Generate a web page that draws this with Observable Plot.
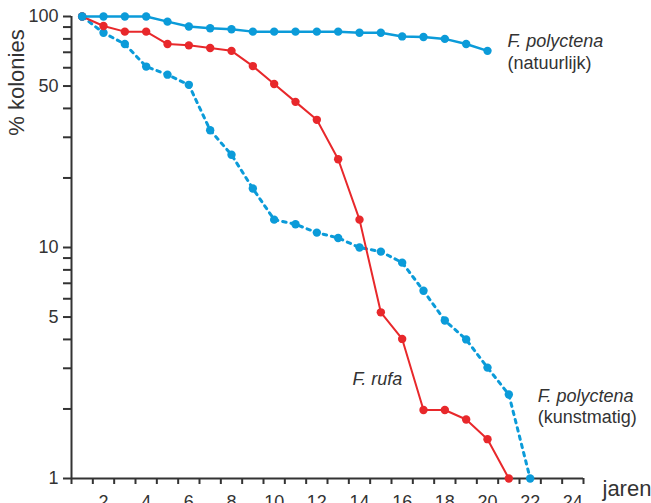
<!DOCTYPE html>
<html><head><meta charset="utf-8">
<script src="https://cdn.jsdelivr.net/npm/d3@7"></script>
<script src="https://cdn.jsdelivr.net/npm/@observablehq/plot@0.6"></script>
<style>html,body{margin:0;padding:0;background:#fff;overflow:hidden}</style>
</head><body><div id="chart"></div>
<script>
// --- data ---
const natYears   = [1,2,3,4,5,6,7,8,9,10,11,12,13,14,15,16,17,18,19,20];
const natValues  = [100,100,100,100,95,90.5,89,88,86,86,86,86,86,85,85,82,81.5,80,76,71];
const rufaYears  = [1,2,3,4,5,6,7,8,9,10,11,12,13,14,15,16,17,18,19,20,21];
const rufaValues = [100,91,86,86,76,75,73,71,61,51,42.7,35.7,24.1,13.2,5.24,4.02,1.98,1.98,1.8,1.48,1.0];
const artYears   = [1,2,3,4,5,6,7,8,9,10,11,12,13,14,15,16,17,18,19,20,21,22];
const artValues  = [100,85,76,60.7,56,50.6,32.2,25.2,18,13.2,12.6,11.6,11,10,9.6,8.6,6.5,4.83,4.0,3.02,2.31,1.0];

const xDomain     = [0.5, 24.5];
const yDomain     = [1, 100];
const xTickMarks  = d3.range(0.5, 25, 1);
const xTickLabels = [2,4,6,8,10,12,14,16,18,20,22,24];
const yTicks      = [1,2,3,4,5,6,7,8,9,10,20,30,40,50,60,70,80,90,100];
const yTickLabels = [1,5,10,50,100];

const toRows = (xs, vs) => xs.map((x, i) => ({x, y: vs[i]}));
const nat  = toRows(natYears, natValues);
const rufa = toRows(rufaYears, rufaValues);
const art  = toRows(artYears, artValues);

const BLUE = "#0b9bd9", RED = "#e8282b", INK = "#333";
const FS = 18;

const chart = Plot.plot({
  width: 651, height: 503,
  marginLeft: 71, marginRight: 68, marginTop: 16, marginBottom: 25,
  style: {fontFamily: "'Liberation Sans', Arial, sans-serif", color: INK, background: "white", overflow: "hidden"},
  x: {domain: xDomain},
  y: {type: "log", domain: yDomain},
  marks: [
    Plot.axisY({ticks: yTicks, tickSize: 8, tickPadding: 5, strokeWidth: 2, fontSize: FS,
      tickFormat: d => yTickLabels.includes(d) ? String(d) : "", label: null}),
    Plot.axisX({ticks: xTickMarks, tickSize: 6, strokeWidth: 2, tickFormat: () => "", label: null}),
    Plot.axisX({ticks: xTickLabels, tickSize: 0, tickPadding: 17, fontSize: FS, label: null}),
    Plot.ruleX([xDomain[0]], {y1: yDomain[0], y2: yDomain[1], stroke: INK, strokeWidth: 2}),
    Plot.ruleY([yDomain[0]], {x1: xDomain[0], x2: xDomain[1], stroke: INK, strokeWidth: 2}),

    Plot.line(art, {x: "x", y: "y", stroke: BLUE, strokeWidth: 3, strokeDasharray: "3.5,5"}),
    Plot.dot(art, {x: "x", y: "y", r: 4.2, fill: BLUE}),
    Plot.line(rufa, {x: "x", y: "y", stroke: RED, strokeWidth: 2}),
    Plot.dot(rufa, {x: "x", y: "y", r: 4.2, fill: RED}),
    Plot.line(nat, {x: "x", y: "y", stroke: BLUE, strokeWidth: 2.5}),
    Plot.dot(nat, {x: "x", y: "y", r: 4.2, fill: BLUE}),

    Plot.text([nat.at(-1)], {x: "x", y: "y", text: () => "F. polyctena", fontStyle: "italic",
      textAnchor: "start", dx: 20, dy: -10, fontSize: FS, fill: INK}),
    Plot.text([nat.at(-1)], {x: "x", y: "y", text: () => "(natuurlijk)",
      textAnchor: "start", dx: 20, dy: 12, fontSize: FS, fill: INK}),
    Plot.text([art.at(-2)], {x: "x", y: "y", text: () => "F. polyctena", fontStyle: "italic",
      textAnchor: "start", dx: 29, dy: 2, fontSize: FS, fill: INK}),
    Plot.text([art.at(-2)], {x: "x", y: "y", text: () => "(kunstmatig)",
      textAnchor: "start", dx: 29, dy: 23, fontSize: FS, fill: INK}),
    Plot.text([rufa[16]], {x: "x", y: "y", text: () => "F. rufa", fontStyle: "italic",
      textAnchor: "start", dx: -71, dy: -31, fontSize: FS, fill: INK}),

    Plot.text(["jaren"], {frameAnchor: "bottom-right", text: d => d, textAnchor: "start",
      lineAnchor: "middle", dx: 19, dy: 10, fontSize: 22, fill: INK}),
    Plot.text(["% kolonies"], {frameAnchor: "left", text: d => d, rotate: -90,
      textAnchor: "middle", lineAnchor: "middle", dx: -55, dy: -165, fontSize: 22, fill: INK})
  ]
});
document.getElementById("chart").append(chart);
</script>
</body></html>
